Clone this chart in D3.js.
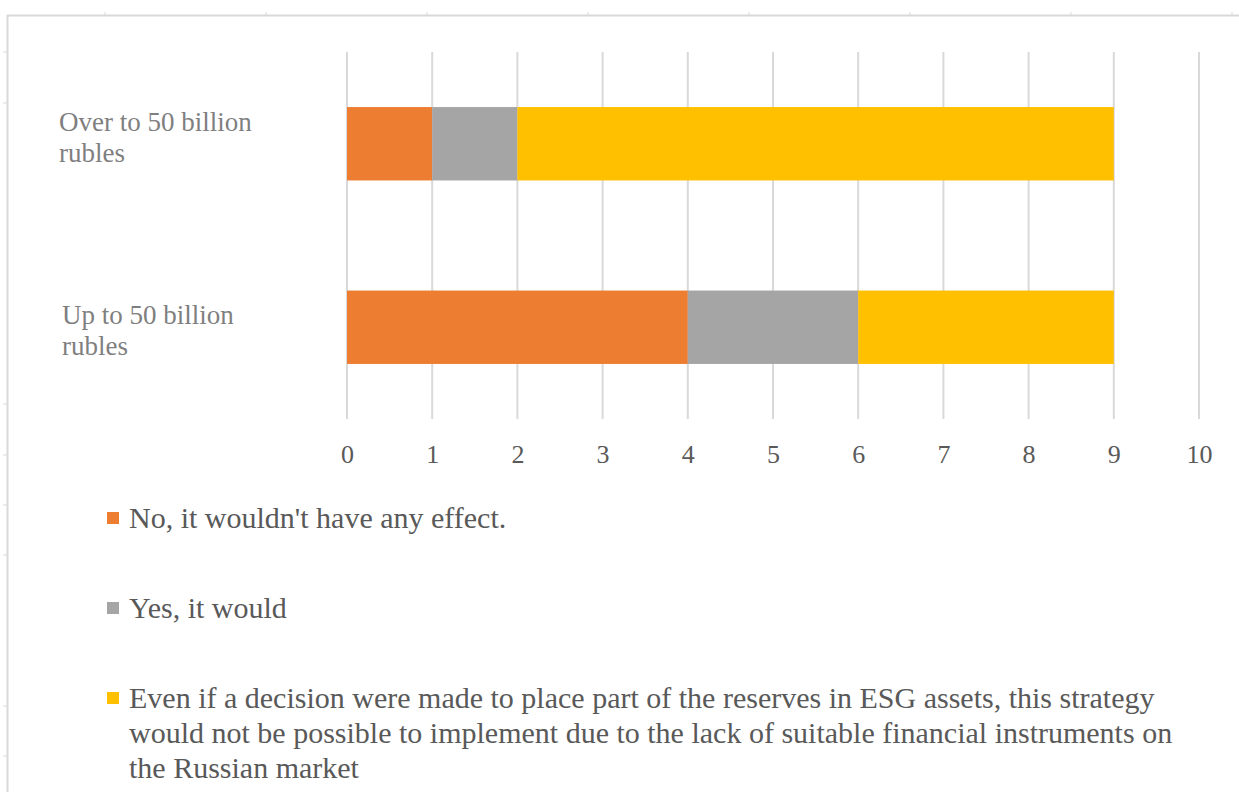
<!DOCTYPE html>
<html><head><meta charset="utf-8">
<script src="https://cdn.jsdelivr.net/npm/d3@7"></script>
<style>html,body{margin:0;padding:0;background:#fff;}svg{display:block;}</style>
</head><body>
<svg id="chart" width="1239" height="792"></svg>
<script>
const categories = ["Over to 50 billion rubles", "Up to 50 billion rubles"];
const categoryLines = [["Over to 50 billion", "rubles"], ["Up to 50 billion", "rubles"]];
const seriesNames = [
  "No, it wouldn't have any effect.",
  "Yes, it would",
  "Even if a decision were made to place part of the reserves in ESG assets, this strategy would not be possible to implement due to the lack of suitable financial instruments on the Russian market"
];
const seriesColors = ["#ED7D31", "#A5A5A5", "#FFC000"];
const noEffect = [1, 4];
const yesWould = [1, 2];
const noInstruments = [7, 3];
const xTicks = [0,1,2,3,4,5,6,7,8,9,10];

const svg = d3.select("#chart");
const FONT = "'Liberation Serif','Times New Roman',serif";

// sheet border remnants
svg.append("line").attr("x1",7).attr("x2",1239).attr("y1",15.5).attr("y2",15.5).attr("stroke","#d9d9d9").attr("stroke-width",2);
svg.append("line").attr("x1",7.5).attr("x2",7.5).attr("y1",15).attr("y2",792).attr("stroke","#d9d9d9").attr("stroke-width",2);
[105,266,427,588,749,910,1071,1232].forEach(x=>svg.append("line").attr("x1",x).attr("x2",x).attr("y1",12).attr("y2",15).attr("stroke","#d9d9d9"));
[52,103,404,455,505,555,706,756].forEach(y=>svg.append("line").attr("x1",3).attr("x2",7).attr("y1",y).attr("y2",y).attr("stroke","#d9d9d9"));

const x = d3.scaleLinear().domain([0,10]).range([347,1199]);
const y = d3.scaleBand().domain(categories).range([52,419]).paddingInner(0.6).paddingOuter(0.3);

// gridlines
svg.append("g").selectAll("line").data(xTicks).join("line")
  .attr("x1",d=>x(d)).attr("x2",d=>x(d)).attr("y1",52).attr("y2",419)
  .attr("stroke","#d9d9d9").attr("stroke-width",2);

// stacked data
const rows = categories.map((c,i)=>({cat:c, s0:noEffect[i], s1:yesWould[i], s2:noInstruments[i]}));
const stack = d3.stack().keys(["s0","s1","s2"])(rows);
svg.append("g").selectAll("g").data(stack).join("g")
  .attr("fill",(d,i)=>seriesColors[i])
  .selectAll("rect").data(d=>d).join("rect")
  .attr("x",d=>x(d[0])).attr("width",d=>x(d[1])-x(d[0]))
  .attr("y",d=>y(d.data.cat)).attr("height",y.bandwidth());

// x axis labels
const xAxis = d3.axisBottom(x).tickValues(xTicks).tickSize(0).tickPadding(0);
const gx = svg.append("g").attr("transform","translate(0,445)").call(xAxis);
gx.select(".domain").remove();
gx.selectAll("text").attr("font-family",FONT).attr("font-size",26).attr("fill","#595959").attr("dy","0.71em");

// category labels
const labelOffsetY = [-13, -3];
const labelX = [59, 62];
categories.forEach((c,i)=>{
  const cy = y(c) + y.bandwidth()/2;
  const t = svg.append("text").attr("font-family",FONT).attr("font-size",27).attr("fill","#7f7f7f");
  categoryLines[i].forEach((ln,j)=>t.append("tspan").attr("x",labelX[i]).attr("y",cy+labelOffsetY[i]+j*31).text(ln));
});

// legend
const lg = svg.append("g");
const legendTop = [518, 608, 698];
const maxW = 1065;
seriesNames.forEach((name,i)=>{
  const cy = legendTop[i];
  lg.append("rect").attr("x",107).attr("y",cy-6).attr("width",12).attr("height",12).attr("fill",seriesColors[i]);
  const t = lg.append("text").attr("font-family",FONT).attr("font-size",30).attr("fill","#595959");
  const words = name.split(" ");
  let line = [], ln = 0;
  let ts = t.append("tspan").attr("x",129).attr("y",cy+10);
  words.forEach(w=>{
    line.push(w);
    ts.text(line.join(" "));
    if (ts.node().getComputedTextLength() > maxW && line.length>1){
      line.pop(); ts.text(line.join(" "));
      line=[w]; ln++;
      ts = t.append("tspan").attr("x",129).attr("y",cy+10+ln*35).text(w);
    }
  });
});
</script>
</body></html>
